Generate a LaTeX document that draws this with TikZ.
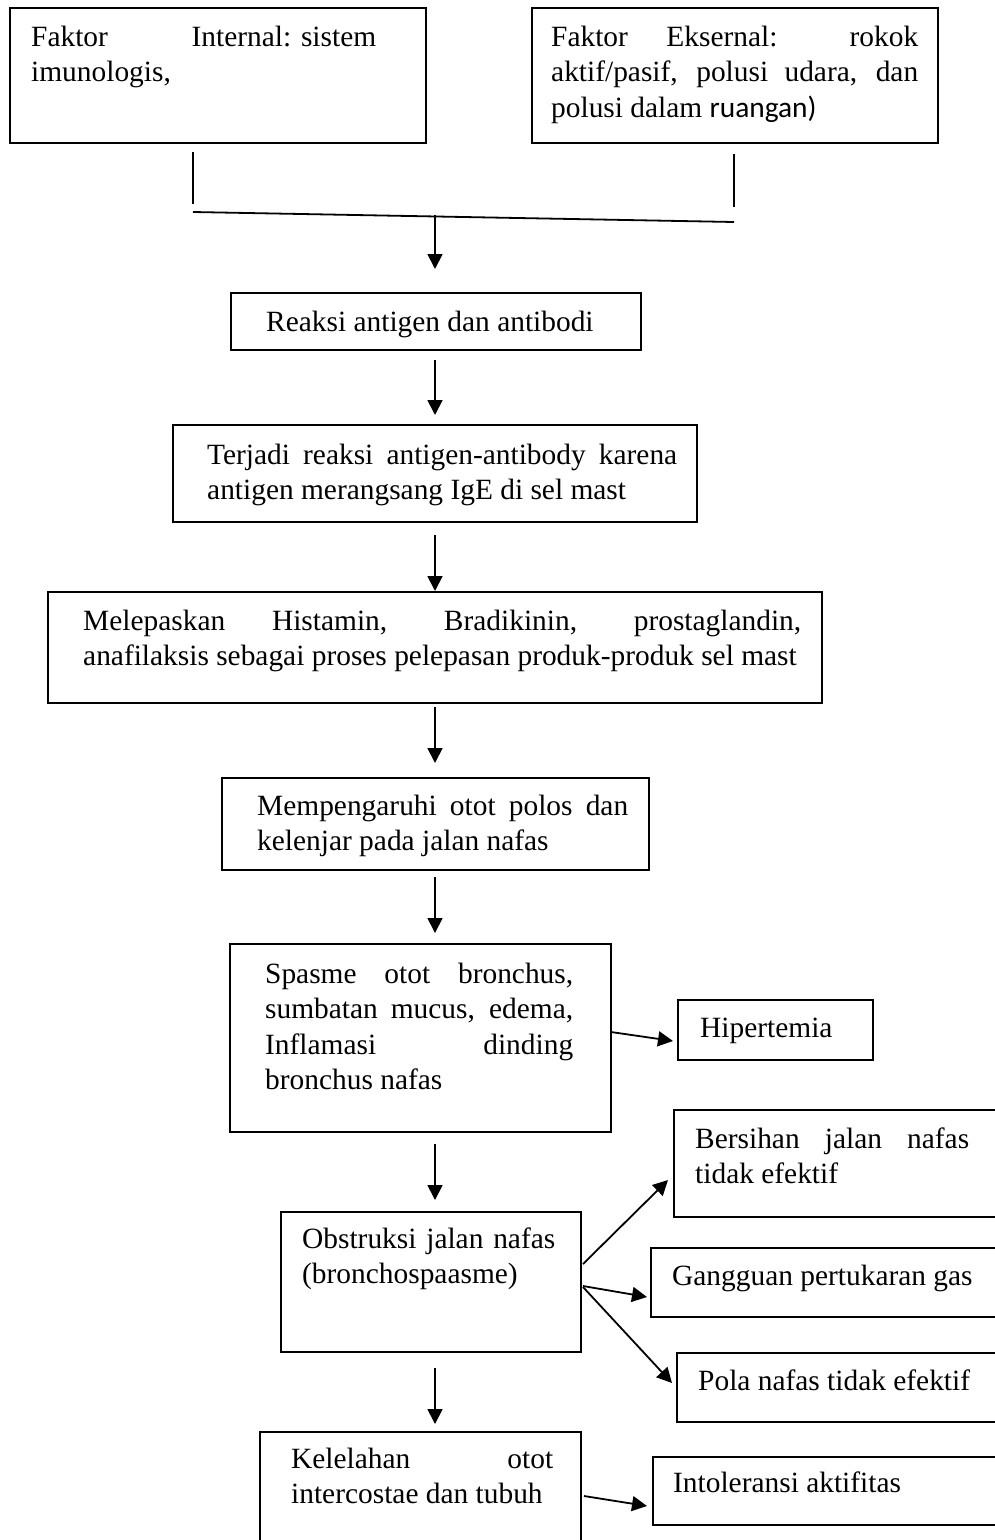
\documentclass[tikz,border=0pt]{standalone}
\usepackage{fontspec}
\setmainfont{Liberation Serif}
\newfontfamily\calibri{Carlito}
\usetikzlibrary{calc,arrows.meta}
\newcommand{\boxfont}{\fontsize{29.4}{35.5}\selectfont}

\begin{document}
\begin{tikzpicture}[x=1pt,y=-1pt,
 box/.style={draw,line width=1.6pt,inner sep=0pt,outer sep=0pt,anchor=north west},
 txt/.style={inner sep=0pt,anchor=base west,font=\boxfont},
 line/.style={line width=1.8pt},
 arr/.style={line width=1.8pt,-{Triangle[length=15pt,width=15pt]}}]

\useasboundingbox (0,0) rectangle (995,1540);
\clip (0,0) rectangle (995,1540);

% faktor
\node[box,minimum width=416pt,minimum height=135pt] (internal) at (10,8) {};
\node[txt,text width=345pt,align=justify] (internal-t) at (31,46)
 {Faktor\hfill Internal: sistem\linebreak imunologis,};
\node[box,minimum width=406pt,minimum height=135pt] (external) at (532,8) {};
\node[txt,text width=367pt,align=justify] (external-t) at (551,46)
 {Faktor Eksernal: rokok\linebreak aktif/pasif, polusi udara, dan\linebreak polusi dalam {\calibri ruangan)}};

% alur tengah
\node[box,minimum width=410pt,minimum height=57pt] (reaksi) at (231,293) {};
\node[txt] (reaksi-t) at (266,331) {Reaksi antigen dan antibodi};

\node[box,minimum width=524pt,minimum height=97pt] (terjadi) at (173,425) {};
\node[txt,text width=470pt,align=justify] (terjadi-t) at (207,464)
 {Terjadi reaksi antigen-antibody karena\linebreak antigen merangsang IgE di sel mast};

\node[box,minimum width=774pt,minimum height=111pt] (melepas) at (48,592) {};
\node[txt,text width=718pt,align=justify] (melepas-t) at (83,630)
 {Melepaskan Histamin, Bradikinin, prostaglandin,\linebreak anafilaksis sebagai proses pelepasan produk-produk sel mast};

\node[box,minimum width=427pt,minimum height=92pt] (otot) at (222,778) {};
\node[txt,text width=371pt,align=justify] (otot-t) at (257,815)
 {Mempengaruhi otot polos dan\linebreak kelenjar pada jalan nafas};

\node[box,minimum width=381pt,minimum height=188pt] (spasme) at (230,944) {};
\node[txt,text width=308pt,align=justify] (spasme-t) at (265,983)
 {Spasme otot bronchus,\linebreak sumbatan mucus, edema,\linebreak Inflamasi dinding\linebreak bronchus nafas};

\node[box,minimum width=300pt,minimum height=140pt] (obstruksi) at (281,1212) {};
\node[txt,text width=262pt,align=left] (obstruksi-t) at (302,1248)
 {Obstruksi jalan nafas\\(bronchospaasme)};

\node[box,minimum width=321pt,minimum height=130pt] (lelah) at (260,1432) {};
\node[txt,text width=262pt,align=justify] (lelah-t) at (291,1468)
 {Kelelahan otot\linebreak intercostae dan tubuh};

% diagnosa
\node[box,minimum width=195pt,minimum height=60pt] (hiper) at (678,1000) {};
\node[txt] (hiper-t) at (700,1037) {Hipertemia};

\node[box,minimum width=340pt,minimum height=107pt] (bersihan) at (674,1110) {};
\node[txt,text width=274pt,align=justify] (bersihan-t) at (695,1148)
 {Bersihan jalan nafas\linebreak tidak efektif};

\node[box,minimum width=360pt,minimum height=69pt] (gangguan) at (651,1248) {};
\node[txt] (gangguan-t) at (672,1285) {Gangguan pertukaran gas};

\node[box,minimum width=340pt,minimum height=69pt] (pola) at (677,1353) {};
\node[txt] (pola-t) at (698,1390) {Pola nafas tidak efektif};

\node[box,minimum width=360pt,minimum height=68pt] (intoleransi) at (653,1457) {};
\node[txt] (intoleransi-t) at (673,1492) {Intoleransi aktifitas};

% garis gabungan
\coordinate (jl) at (193,212);
\coordinate (jr) at (734,222);
\coordinate (jm) at (435,215);
\draw[line] (internal.south -| jl) ++(0,9) -- ++(0,52);
\draw[line] (external.south -| jr) ++(0,11) -- ++(0,53);
\draw[line] (jl) -- (jr);
\draw[arr] (jm) -- ($(reaksi.north -| jm)+(0,-24)$);

\foreach \a/\b/\s/\e in {reaksi/terjadi/10/10,terjadi/melepas/13/1,
  melepas/otot/4/15,otot/spasme/7/11,spasme/obstruksi/12/12,obstruksi/lelah/16/8}
 \draw[arr] ($(\a.south -| jm)+(0,\s)$) -- ($(\b.north -| jm)+(0,-\e)$);

% panah samping
\draw[arr] ($(spasme.north east)+(0,88)$) -- ($(hiper.north west)+(-5,41)$);
\draw[arr] ($(obstruksi.north east)+(2,52)$) -- ($(bersihan.north west)+(-6,70)$);
\draw[arr] ($(obstruksi.north east)+(2,74)$) -- ($(gangguan.north west)+(-4,49)$);
\draw[arr] ($(obstruksi.north east)+(2,75)$) -- ($(pola.north west)+(-5,30)$);
\draw[arr] ($(lelah.north east)+(3,64)$) -- ($(intoleransi.north west)+(-6,49)$);

\end{tikzpicture}
\end{document}
